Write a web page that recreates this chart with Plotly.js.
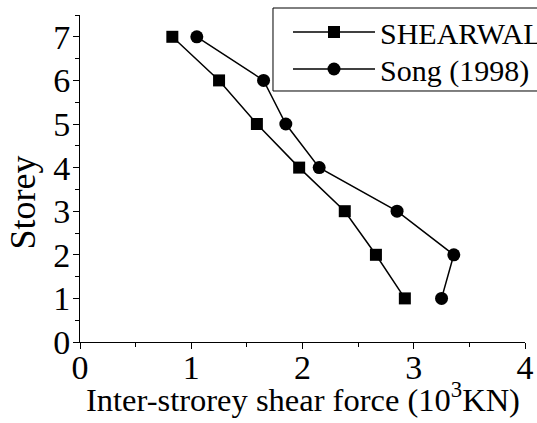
<!DOCTYPE html>
<html>
<head>
<meta charset="utf-8">
<script src="https://cdn.plot.ly/plotly-3.0.1.min.js"></script>
<style>html,body{margin:0;padding:0;background:#fff;}#chart{width:537px;height:423px;}</style>
</head>
<body>
<div id="chart"></div>
<script>
const storeys = [1, 2, 3, 4, 5, 6, 7];
const shearwallForce = [2.92, 2.66, 2.38, 1.97, 1.59, 1.25, 0.83];
const songForce = [3.25, 3.36, 2.85, 2.15, 1.85, 1.65, 1.05];
const seriesNames = ['SHEARWALL', 'Song (1998)'];
const yTitle = 'Storey';
const xTitle = 'Inter-strorey shear force (10<sup>3</sup>KN)';

const FONT = '"Liberation Serif"';

const traces = [
  {
    x: shearwallForce, y: storeys, name: seriesNames[0],
    type: 'scatter', mode: 'lines+markers', legend: 'legend',
    line: {color: '#000', width: 1.5},
    marker: {symbol: 'square', size: 12, color: '#000'}
  },
  {
    x: songForce, y: storeys, name: seriesNames[1],
    type: 'scatter', mode: 'lines+markers', legend: 'legend2',
    line: {color: '#000', width: 1.5},
    marker: {symbol: 'circle', size: 13, color: '#000'}
  }
];

const axisCommon = {
  showgrid: false, zeroline: false, showline: true,
  linecolor: '#000', linewidth: 1,
  ticks: 'outside', ticklen: 6, tickwidth: 1, tickcolor: '#000',
  tickfont: {family: FONT, size: 34, color: '#000'},
  ticklabelposition: 'outside',
  fixedrange: true
};

const legendCommon = {
  xanchor: 'left', yanchor: 'middle',
  bgcolor: 'rgba(0,0,0,0)', borderwidth: 0,
  font: {family: FONT, size: 30, color: '#000'},
  itemwidth: 82
};

const layout = {
  width: 537, height: 423,
  margin: {l: 80, r: 12, t: 15, b: 81, pad: 0, autoexpand: false},
  paper_bgcolor: '#fff', plot_bgcolor: '#fff',
  font: {family: FONT, color: '#000'},
  xaxis: Object.assign({}, axisCommon, {
    range: [0, 4], dtick: 1, tick0: 0,
    ticklabelstandoff: -11,
    minor: {dtick: 0.5, ticks: 'outside', ticklen: 4, tickcolor: '#000'}
  }),
  yaxis: Object.assign({}, axisCommon, {
    range: [0, 7.5], dtick: 1, tick0: 0,
    ticklabelstandoff: -4,
    minor: {dtick: 0.5, ticks: 'outside', ticklen: 4, tickcolor: '#000'}
  }),
  annotations: [{
    text: yTitle, xref: 'paper', yref: 'paper', x: -0.1292, y: 0.4251,
    xanchor: 'center', yanchor: 'middle', textangle: -90, showarrow: false,
    font: {family: FONT, size: 36, color: '#000'}
  }, {
    text: xTitle, xref: 'paper', yref: 'paper', x: 0.5, y: -0.1697,
    xanchor: 'center', yanchor: 'middle', showarrow: false,
    font: {family: FONT, size: 32.5, color: '#000'}
  }],
  showlegend: true,
  legend: Object.assign({}, legendCommon, {x: 0.4674, y: 0.948}),
  legend2: Object.assign({}, legendCommon, {x: 0.4674, y: 0.8349}),
  shapes: [{
    type: 'rect', xref: 'paper', yref: 'paper', layer: 'above',
    x0: 0.4337, x1: 1.2, y0: 0.7676, y1: 1.0214,
    line: {color: '#000', width: 1}, fillcolor: '#fff'
  }]
};

Plotly.newPlot('chart', traces, layout, {displayModeBar: false, staticPlot: true});
</script>
</body>
</html>
